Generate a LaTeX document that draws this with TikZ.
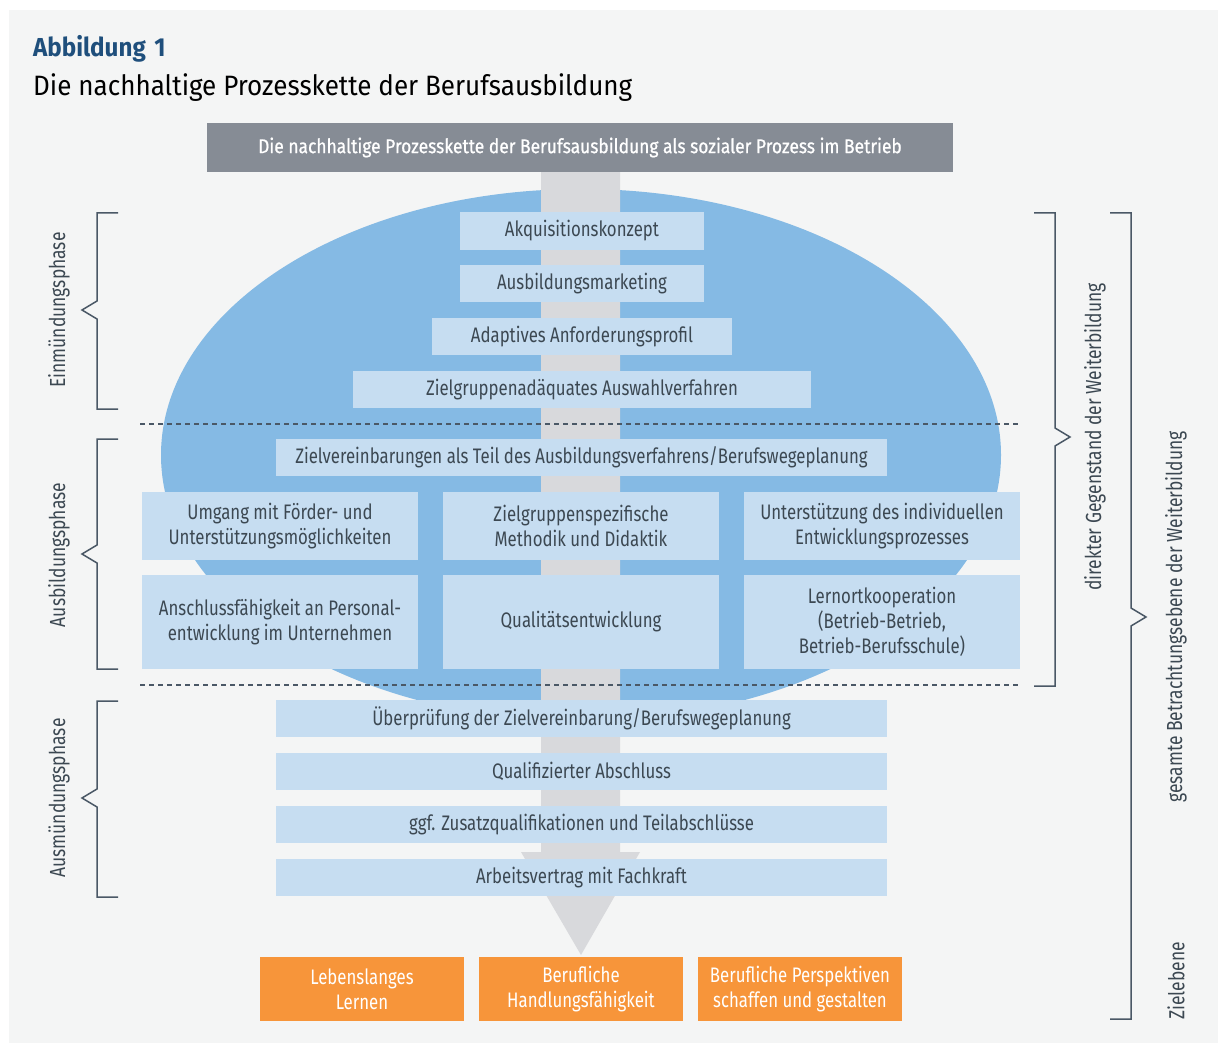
\documentclass[tikz,border=0pt]{standalone}
\usepackage{fontspec}
\setmainfont{Fira Sans}
\newfontfamily\narrowsans{Fira Sans}[FakeStretch=0.8]
\newfontfamily\titlesans{Fira Sans}[FakeStretch=0.93]
\newfontfamily\barsans{Fira Sans}[FakeStretch=0.87,FakeBold=0.8]
\definecolor{panelgray}{HTML}{F4F5F5}
\definecolor{ellipseblue}{HTML}{85BAE4}
\definecolor{lightbox}{HTML}{C6DDF1}
\definecolor{shaftgray}{HTML}{D8D9DC}
\definecolor{headgray}{HTML}{868C95}
\definecolor{goalorange}{HTML}{F7953A}
\definecolor{darktext}{HTML}{3C4852}
\definecolor{titleblue}{HTML}{1F4F7C}
\definecolor{bracegray}{HTML}{4A5866}
\begin{document}
\begin{tikzpicture}[x=1pt,y=-1pt,
    box/.style={fill=lightbox,text=darktext,align=center,inner sep=0pt,
      font=\narrowsans\fontsize{21}{25}\selectfont},
    goal/.style={fill=goalorange,text=white,align=center,inner sep=0pt,
      minimum width=204pt,minimum height=64pt,
      font=\narrowsans\fontsize{21}{25}\selectfont},
    phase/.style={rotate=90,text=darktext,inner sep=0pt,
      font=\narrowsans\fontsize{21.8}{24}\selectfont},
    brace/.style={draw=bracegray,line width=1.5pt},
    sep/.style={draw=bracegray,line width=1.2pt,dash pattern=on 5pt off 4pt}]
  \useasboundingbox (0,0) rectangle (1218,1043);
  \fill[white] (0,0) rectangle (1218,1043);
  \fill[panelgray] (9,10) rectangle (1218,1043);
  % titles
  \node[anchor=base west,inner sep=0pt,text=titleblue,
    font=\titlesans\bfseries\fontsize{26}{30}\selectfont] (fig) at (33,57) {Abbildung\,\,1};
  \node[anchor=base west,inner sep=0pt,text=black,
    font=\titlesans\fontsize{28}{32}\selectfont] (title) at (33,96)
    {Die nachhaltige Prozesskette der Berufsausbildung};
  % ellipse and process arrow
  \fill[ellipseblue] (581,455) ellipse [x radius=420, y radius=266];
  \fill[shaftgray] (541,172) -- (620,172) -- (620,852) -- (640,852)
    -- (581,955) -- (521,852) -- (541,852) -- cycle;
  \node[fill=headgray,text=white,inner sep=0pt,minimum width=746pt,minimum height=49pt,
    font=\barsans\fontsize{20}{24}\selectfont] (head) at (580,147.5)
    {Die nachhaltige Prozesskette der Berufsausbildung als sozialer Prozess im Betrieb};
  % Einmuendungsphase
  \node[box,minimum width=244pt,minimum height=38pt] (akq) at (582,231) {Akquisitionskonzept};
  \node[box,minimum width=244pt,minimum height=37pt] (mark) at (582,283.5) {Ausbildungsmarketing};
  \node[box,minimum width=300pt,minimum height=37pt] (prof) at (582,336.5) {Adaptives Anforderungsprofil};
  \node[box,minimum width=458pt,minimum height=37pt] (ausw) at (582,389.5) {Zielgruppenadäquates Auswahlverfahren};
  % Ausbildungsphase
  \node[box,minimum width=611pt,minimum height=37pt] (zielv) at (581.5,457.5)
    {Zielvereinbarungen als Teil des Ausbildungsverfahrens/Berufswegeplanung};
  \node[box,minimum width=276pt,minimum height=68pt] (foerd) at (280,526)
    {Umgang mit Förder- und\\Unterstützungsmöglichkeiten};
  \node[box,minimum width=276pt,minimum height=68pt] (didak) at (581,526)
    {Zielgruppenspezifische\\Methodik und Didaktik};
  \node[box,minimum width=276pt,minimum height=68pt] (entw) at (882,526)
    {Unterstützung des individuellen\\Entwicklungsprozesses};
  \node[box,minimum width=276pt,minimum height=94pt] (pers) at (280,622)
    {Anschlussfähigkeit an Personal-\\entwicklung im Unternehmen};
  \node[box,minimum width=276pt,minimum height=94pt] (qual) at (581,622)
    {Qualitätsentwicklung};
  \node[box,minimum width=276pt,minimum height=94pt] (lernort) at (882,622)
    {Lernortkooperation\\(Betrieb-Betrieb,\\Betrieb-Berufsschule)};
  % Ausmuendungsphase
  \node[box,minimum width=611pt,minimum height=37pt] (pruef) at (581.5,718.5)
    {Überprüfung der Zielvereinbarung/Berufswegeplanung};
  \node[box,minimum width=611pt,minimum height=37pt] (absch) at (581.5,771.5)
    {Qualifizierter Abschluss};
  \node[box,minimum width=611pt,minimum height=37pt] (zusatz) at (581.5,824.5)
    {ggf. Zusatzqualifikationen und Teilabschlüsse};
  \node[box,minimum width=611pt,minimum height=37pt] (vertrag) at (581.5,877.5)
    {Arbeitsvertrag mit Fachkraft};
  % Zielebene
  \node[goal] (lernen) at (362,989) {Lebenslanges\\Lernen};
  \node[goal] (handl) at (581,989) {Berufliche\\Handlungsfähigkeit};
  \node[goal] (persp) at (800,989) {Berufliche Perspektiven\\schaffen und gestalten};
  % phase separators
  \draw[sep] (140,424) -- (1020,424);
  \draw[sep] (140,685) -- (1020,685);
  % left braces
  \draw[brace] (118,213) -- (97,213) -- (97,301) -- (82,310) -- (97,319) -- (97,409) -- (118,409);
  \draw[brace] (118,439) -- (97,439) -- (97,545) -- (82,554) -- (97,563) -- (97,669) -- (118,669);
  \draw[brace] (118,701) -- (97,701) -- (97,789) -- (82,798) -- (97,807) -- (97,897) -- (118,897);
  \node[phase] (ein) at (59,310) {Einmündungsphase};
  \node[phase] (aus) at (59,555) {Ausbildungsphase};
  \node[phase] (ausm) at (59,798) {Ausmündungsphase};
  % right braces
  \draw[brace] (1034,213) -- (1055,213) -- (1055,428) -- (1070,437) -- (1055,446) -- (1055,686) -- (1034,686);
  \draw[brace] (1110,213) -- (1131,213) -- (1131,608) -- (1146,617) -- (1131,626) -- (1131,1019) -- (1110,1019);
  \node[phase] (direkt) at (1095,437) {direkter Gegenstand der Weiterbildung};
  \node[phase] (gesamt) at (1176,617) {gesamte Betrachtungsebene der Weiterbildung};
  \node[phase] (zielebene) at (1176,981) {Zielebene};
\end{tikzpicture}
\end{document}
